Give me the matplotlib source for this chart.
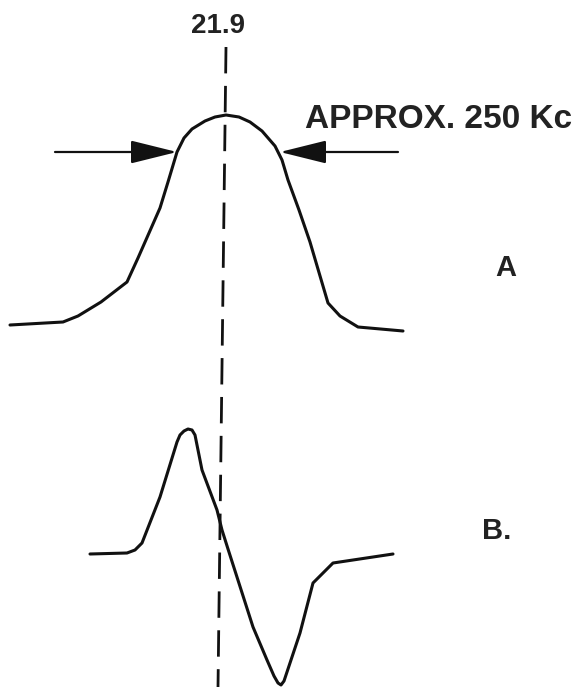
import matplotlib
matplotlib.use("Agg")
import matplotlib.pyplot as plt
import numpy as np

# 데이터 (그림 좌표, 픽셀 단위, y는 아래로 증가)
curve_a_x = [10, 63, 78, 101, 127, 138, 149, 160, 168, 177, 184, 192, 205, 215, 226,
             239, 250, 262, 275, 282, 288, 299, 310, 328, 340, 358, 403]
curve_a_y = [325, 322, 316, 302, 282, 258, 233, 208, 182, 152, 138, 129, 121, 117, 115,
             117, 122, 131, 146, 160, 180, 210, 242, 303, 316, 327, 331]

curve_b_x = [90, 127, 135, 142, 160, 177, 180, 184, 188, 192, 195, 198, 202, 217,
             222, 228, 253, 267, 274, 278, 281, 284, 300, 313, 320, 333, 393]
curve_b_y = [554, 553, 550, 543, 497, 442, 435, 431, 429, 430, 435, 450, 470, 510,
             530, 549, 627, 660, 676, 683, 685, 681, 633, 583, 576, 563, 554]

center_label = "21.9"
center_line_x = [226, 218]
center_line_y = [47, 687]

width_label = "APPROX. 250 Kc"
arrow_y = 152
left_arrow = (55, 177)    # 꼬리, 머리
right_arrow = (398, 280)

plt.rcParams['lines.scale_dashes'] = False
plt.rcParams['font.family'] = ['Liberation Sans', 'DejaVu Sans']

fig = plt.figure(figsize=(5.83, 6.87), dpi=100)
fig.set_facecolor('white')
ax = fig.add_axes([0, 0, 1, 1])
ax.set_xlim(0, 583)
ax.set_ylim(687, 0)
ax.axis('off')

ink = '#111111'

# 곡선 A, B
ax.plot(curve_a_x, curve_a_y, color=ink, lw=2.2, solid_joinstyle='round',
        solid_capstyle='round')
ax.plot(curve_b_x, curve_b_y, color=ink, lw=2.2, solid_joinstyle='round',
        solid_capstyle='round')

# 가운데 점선
ax.plot(center_line_x, center_line_y, color=ink, lw=2.0, dashes=[19, 9])

# 화살표 (폭 표시)
for tail, head in [left_arrow, right_arrow]:
    ax.annotate('', xy=(head, arrow_y), xytext=(tail, arrow_y),
                arrowprops=dict(arrowstyle='-|>,head_length=2.9,head_width=0.72',
                                mutation_scale=10, color=ink, lw=1.6,
                                shrinkA=0, shrinkB=0))

# 글자
ax.text(218, 26, center_label, fontsize=20, fontweight='bold', color='#222222',
        ha='center', va='center')
ax.text(305, 119, width_label, fontsize=24, fontweight='bold', color='#222222',
        ha='left', va='center')
ax.text(506, 268, 'A', fontsize=21, fontweight='bold', color='#222222',
        ha='center', va='center')
ax.text(497, 531, 'B.', fontsize=21, fontweight='bold', color='#222222',
        ha='center', va='center')

fig.savefig('out.png', dpi=100, facecolor='white')
